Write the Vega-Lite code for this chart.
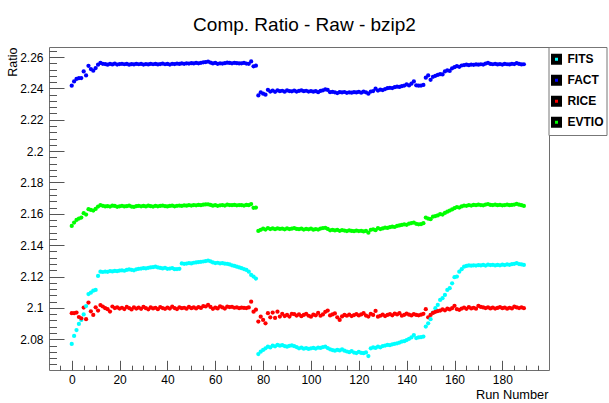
{
"$schema": "https://vega.github.io/schema/vega-lite/v6.json",
"width": 500,
"height": 323,
"autosize": {"type": "none"},
"padding": {"left": 49, "top": 47, "right": 60, "bottom": 33},
"background": "white",
"config": {"view": {"stroke": "#6e6e6e", "strokeWidth": 1}, "font": "Liberation Sans"},
"title": {"text": "Comp. Ratio - Raw - bzip2", "anchor": "middle", "frame": "group", "dx": 5.5, "dy": 20, "offset": 15, "baseline": "alphabetic", "font": "Liberation Sans", "fontSize": 19, "fontWeight": "normal", "color": "black"},
"data": {"values": [
{"run":0,"FITS":2.0770,"FACT":2.2417,"RICE":2.0966,"EVTIO":2.1523},
{"run":1,"FITS":2.0821,"FACT":2.2444,"RICE":2.0966,"EVTIO":2.1544},
{"run":2,"FITS":2.0859,"FACT":2.2460,"RICE":2.0970,"EVTIO":2.1561},
{"run":3,"FITS":2.0898,"FACT":2.2465,"RICE":2.0942,"EVTIO":2.1570},
{"run":4,"FITS":2.0923,"FACT":2.2466,"RICE":2.0934,"EVTIO":2.1576},
{"run":5,"FITS":2.0958,"FACT":2.2508,"RICE":2.1002,"EVTIO":2.1604},
{"run":6,"FITS":2.1012,"FACT":2.2483,"RICE":2.0928,"EVTIO":2.1595},
{"run":7,"FITS":2.1088,"FACT":2.2544,"RICE":2.1034,"EVTIO":2.1630},
{"run":8,"FITS":2.1097,"FACT":2.2523,"RICE":2.0978,"EVTIO":2.1625},
{"run":9,"FITS":2.1110,"FACT":2.2513,"RICE":2.0955,"EVTIO":2.1621},
{"run":10,"FITS":2.1115,"FACT":2.2530,"RICE":2.1004,"EVTIO":2.1631},
{"run":11,"FITS":2.1204,"FACT":2.2551,"RICE":2.0983,"EVTIO":2.1646},
{"run":12,"FITS":2.1231,"FACT":2.2562,"RICE":2.1018,"EVTIO":2.1655},
{"run":13,"FITS":2.1229,"FACT":2.2557,"RICE":2.1009,"EVTIO":2.1651},
{"run":14,"FITS":2.1232,"FACT":2.2555,"RICE":2.0998,"EVTIO":2.1647},
{"run":15,"FITS":2.1230,"FACT":2.2551,"RICE":2.0992,"EVTIO":2.1649},
{"run":16,"FITS":2.1235,"FACT":2.2556,"RICE":2.0977,"EVTIO":2.1646},
{"run":17,"FITS":2.1233,"FACT":2.2553,"RICE":2.1009,"EVTIO":2.1652},
{"run":18,"FITS":2.1236,"FACT":2.2558,"RICE":2.0999,"EVTIO":2.1650},
{"run":19,"FITS":2.1234,"FACT":2.2552,"RICE":2.1003,"EVTIO":2.1645},
{"run":20,"FITS":2.1238,"FACT":2.2555,"RICE":2.0996,"EVTIO":2.1648},
{"run":21,"FITS":2.1240,"FACT":2.2557,"RICE":2.1001,"EVTIO":2.1651},
{"run":22,"FITS":2.1237,"FACT":2.2554,"RICE":2.0993,"EVTIO":2.1647},
{"run":23,"FITS":2.1242,"FACT":2.2556,"RICE":2.1006,"EVTIO":2.1649},
{"run":24,"FITS":2.1245,"FACT":2.2551,"RICE":2.0999,"EVTIO":2.1652},
{"run":25,"FITS":2.1243,"FACT":2.2555,"RICE":2.0990,"EVTIO":2.1646},
{"run":26,"FITS":2.1240,"FACT":2.2553,"RICE":2.1004,"EVTIO":2.1644},
{"run":27,"FITS":2.1246,"FACT":2.2557,"RICE":2.0996,"EVTIO":2.1649},
{"run":28,"FITS":2.1249,"FACT":2.2554,"RICE":2.1002,"EVTIO":2.1651},
{"run":29,"FITS":2.1251,"FACT":2.2556,"RICE":2.0994,"EVTIO":2.1648},
{"run":30,"FITS":2.1253,"FACT":2.2552,"RICE":2.1007,"EVTIO":2.1650},
{"run":31,"FITS":2.1252,"FACT":2.2555,"RICE":2.0998,"EVTIO":2.1647},
{"run":32,"FITS":2.1256,"FACT":2.2553,"RICE":2.0991,"EVTIO":2.1652},
{"run":33,"FITS":2.1258,"FACT":2.2557,"RICE":2.1003,"EVTIO":2.1649},
{"run":34,"FITS":2.1260,"FACT":2.2554,"RICE":2.0997,"EVTIO":2.1646},
{"run":35,"FITS":2.1263,"FACT":2.2556,"RICE":2.1001,"EVTIO":2.1651},
{"run":36,"FITS":2.1258,"FACT":2.2553,"RICE":2.0992,"EVTIO":2.1648},
{"run":37,"FITS":2.1255,"FACT":2.2555,"RICE":2.1005,"EVTIO":2.1650},
{"run":38,"FITS":2.1252,"FACT":2.2558,"RICE":2.0999,"EVTIO":2.1653},
{"run":39,"FITS":2.1256,"FACT":2.2554,"RICE":2.0994,"EVTIO":2.1649},
{"run":40,"FITS":2.1249,"FACT":2.2556,"RICE":2.1002,"EVTIO":2.1647},
{"run":41,"FITS":2.1251,"FACT":2.2552,"RICE":2.0996,"EVTIO":2.1650},
{"run":42,"FITS":2.1254,"FACT":2.2557,"RICE":2.1008,"EVTIO":2.1652},
{"run":43,"FITS":2.1247,"FACT":2.2555,"RICE":2.0999,"EVTIO":2.1648},
{"run":44,"FITS":2.1248,"FACT":2.2558,"RICE":2.0993,"EVTIO":2.1651},
{"run":45,"FITS":2.1249,"FACT":2.2556,"RICE":2.1004,"EVTIO":2.1653},
{"run":46,"FITS":2.1284,"FACT":2.2559,"RICE":2.0998,"EVTIO":2.1650},
{"run":47,"FITS":2.1281,"FACT":2.2557,"RICE":2.1001,"EVTIO":2.1654},
{"run":48,"FITS":2.1283,"FACT":2.2560,"RICE":2.0995,"EVTIO":2.1652},
{"run":49,"FITS":2.1286,"FACT":2.2558,"RICE":2.1006,"EVTIO":2.1655},
{"run":50,"FITS":2.1284,"FACT":2.2561,"RICE":2.0998,"EVTIO":2.1653},
{"run":51,"FITS":2.1288,"FACT":2.2559,"RICE":2.1003,"EVTIO":2.1656},
{"run":52,"FITS":2.1290,"FACT":2.2562,"RICE":2.0997,"EVTIO":2.1654},
{"run":53,"FITS":2.1292,"FACT":2.2560,"RICE":2.1005,"EVTIO":2.1657},
{"run":54,"FITS":2.1294,"FACT":2.2563,"RICE":2.1000,"EVTIO":2.1655},
{"run":55,"FITS":2.1296,"FACT":2.2566,"RICE":2.1012,"EVTIO":2.1658},
{"run":56,"FITS":2.1299,"FACT":2.2568,"RICE":2.1009,"EVTIO":2.1660},
{"run":57,"FITS":2.1302,"FACT":2.2571,"RICE":2.1019,"EVTIO":2.1661},
{"run":58,"FITS":2.1297,"FACT":2.2565,"RICE":2.1006,"EVTIO":2.1657},
{"run":59,"FITS":2.1290,"FACT":2.2559,"RICE":2.0994,"EVTIO":2.1652},
{"run":60,"FITS":2.1286,"FACT":2.2562,"RICE":2.1002,"EVTIO":2.1655},
{"run":61,"FITS":2.1288,"FACT":2.2557,"RICE":2.0997,"EVTIO":2.1651},
{"run":62,"FITS":2.1284,"FACT":2.2560,"RICE":2.1010,"EVTIO":2.1654},
{"run":63,"FITS":2.1286,"FACT":2.2558,"RICE":2.1003,"EVTIO":2.1656},
{"run":64,"FITS":2.1282,"FACT":2.2561,"RICE":2.0996,"EVTIO":2.1653},
{"run":65,"FITS":2.1281,"FACT":2.2564,"RICE":2.1008,"EVTIO":2.1658},
{"run":66,"FITS":2.1277,"FACT":2.2562,"RICE":2.1005,"EVTIO":2.1656},
{"run":67,"FITS":2.1272,"FACT":2.2560,"RICE":2.1007,"EVTIO":2.1655},
{"run":68,"FITS":2.1268,"FACT":2.2563,"RICE":2.1001,"EVTIO":2.1657},
{"run":69,"FITS":2.1263,"FACT":2.2561,"RICE":2.1004,"EVTIO":2.1654},
{"run":70,"FITS":2.1258,"FACT":2.2559,"RICE":2.0998,"EVTIO":2.1656},
{"run":71,"FITS":2.1253,"FACT":2.2560,"RICE":2.1002,"EVTIO":2.1655},
{"run":72,"FITS":2.1248,"FACT":2.2562,"RICE":2.1000,"EVTIO":2.1653},
{"run":73,"FITS":2.1242,"FACT":2.2558,"RICE":2.0999,"EVTIO":2.1657},
{"run":74,"FITS":2.1231,"FACT":2.2557,"RICE":2.1003,"EVTIO":2.1655},
{"run":75,"FITS":2.1210,"FACT":2.2572,"RICE":2.1040,"EVTIO":2.1662},
{"run":76,"FITS":2.1200,"FACT":2.2541,"RICE":2.0976,"EVTIO":2.1638},
{"run":77,"FITS":2.1187,"FACT":2.2545,"RICE":2.0989,"EVTIO":2.1640},
{"run":78,"FITS":2.0706,"FACT":2.2355,"RICE":2.0913,"EVTIO":2.1491},
{"run":79,"FITS":2.0721,"FACT":2.2374,"RICE":2.0944,"EVTIO":2.1498},
{"run":80,"FITS":2.0732,"FACT":2.2366,"RICE":2.0923,"EVTIO":2.1505},
{"run":81,"FITS":2.0742,"FACT":2.2360,"RICE":2.0902,"EVTIO":2.1500},
{"run":82,"FITS":2.0753,"FACT":2.2391,"RICE":2.0966,"EVTIO":2.1509},
{"run":83,"FITS":2.0748,"FACT":2.2380,"RICE":2.0940,"EVTIO":2.1503},
{"run":84,"FITS":2.0759,"FACT":2.2386,"RICE":2.0970,"EVTIO":2.1507},
{"run":85,"FITS":2.0755,"FACT":2.2378,"RICE":2.0936,"EVTIO":2.1502},
{"run":86,"FITS":2.0764,"FACT":2.2388,"RICE":2.0976,"EVTIO":2.1508},
{"run":87,"FITS":2.0759,"FACT":2.2382,"RICE":2.0945,"EVTIO":2.1504},
{"run":88,"FITS":2.0762,"FACT":2.2385,"RICE":2.0962,"EVTIO":2.1506},
{"run":89,"FITS":2.0757,"FACT":2.2379,"RICE":2.0948,"EVTIO":2.1501},
{"run":90,"FITS":2.0753,"FACT":2.2387,"RICE":2.0955,"EVTIO":2.1507},
{"run":91,"FITS":2.0758,"FACT":2.2383,"RICE":2.0945,"EVTIO":2.1503},
{"run":92,"FITS":2.0761,"FACT":2.2381,"RICE":2.0962,"EVTIO":2.1505},
{"run":93,"FITS":2.0756,"FACT":2.2386,"RICE":2.0960,"EVTIO":2.1509},
{"run":94,"FITS":2.0750,"FACT":2.2380,"RICE":2.0951,"EVTIO":2.1504},
{"run":95,"FITS":2.0742,"FACT":2.2384,"RICE":2.0958,"EVTIO":2.1502},
{"run":96,"FITS":2.0746,"FACT":2.2388,"RICE":2.0947,"EVTIO":2.1506},
{"run":97,"FITS":2.0740,"FACT":2.2382,"RICE":2.0955,"EVTIO":2.1500},
{"run":98,"FITS":2.0744,"FACT":2.2385,"RICE":2.0962,"EVTIO":2.1504},
{"run":99,"FITS":2.0738,"FACT":2.2380,"RICE":2.0950,"EVTIO":2.1501},
{"run":100,"FITS":2.0742,"FACT":2.2383,"RICE":2.0944,"EVTIO":2.1505},
{"run":101,"FITS":2.0745,"FACT":2.2379,"RICE":2.0957,"EVTIO":2.1499},
{"run":102,"FITS":2.0741,"FACT":2.2382,"RICE":2.0953,"EVTIO":2.1503},
{"run":103,"FITS":2.0747,"FACT":2.2376,"RICE":2.0968,"EVTIO":2.1500},
{"run":104,"FITS":2.0745,"FACT":2.2384,"RICE":2.0950,"EVTIO":2.1506},
{"run":105,"FITS":2.0750,"FACT":2.2388,"RICE":2.0958,"EVTIO":2.1509},
{"run":106,"FITS":2.0753,"FACT":2.2393,"RICE":2.0975,"EVTIO":2.1511},
{"run":107,"FITS":2.0744,"FACT":2.2390,"RICE":2.0983,"EVTIO":2.1504},
{"run":108,"FITS":2.0736,"FACT":2.2376,"RICE":2.0952,"EVTIO":2.1495},
{"run":109,"FITS":2.0731,"FACT":2.2378,"RICE":2.0958,"EVTIO":2.1498},
{"run":110,"FITS":2.0727,"FACT":2.2375,"RICE":2.0965,"EVTIO":2.1494},
{"run":111,"FITS":2.0733,"FACT":2.2370,"RICE":2.0940,"EVTIO":2.1497},
{"run":112,"FITS":2.0729,"FACT":2.2376,"RICE":2.0923,"EVTIO":2.1492},
{"run":113,"FITS":2.0735,"FACT":2.2374,"RICE":2.0946,"EVTIO":2.1496},
{"run":114,"FITS":2.0727,"FACT":2.2377,"RICE":2.0955,"EVTIO":2.1493},
{"run":115,"FITS":2.0722,"FACT":2.2372,"RICE":2.0950,"EVTIO":2.1490},
{"run":116,"FITS":2.0718,"FACT":2.2375,"RICE":2.0957,"EVTIO":2.1494},
{"run":117,"FITS":2.0724,"FACT":2.2373,"RICE":2.0948,"EVTIO":2.1491},
{"run":118,"FITS":2.0715,"FACT":2.2376,"RICE":2.0954,"EVTIO":2.1489},
{"run":119,"FITS":2.0712,"FACT":2.2374,"RICE":2.0960,"EVTIO":2.1493},
{"run":120,"FITS":2.0719,"FACT":2.2378,"RICE":2.0952,"EVTIO":2.1490},
{"run":121,"FITS":2.0713,"FACT":2.2373,"RICE":2.0958,"EVTIO":2.1492},
{"run":122,"FITS":2.0711,"FACT":2.2379,"RICE":2.0966,"EVTIO":2.1488},
{"run":123,"FITS":2.0716,"FACT":2.2375,"RICE":2.0951,"EVTIO":2.1491},
{"run":124,"FITS":2.0693,"FACT":2.2366,"RICE":2.0945,"EVTIO":2.1480},
{"run":125,"FITS":2.0742,"FACT":2.2380,"RICE":2.0962,"EVTIO":2.1498},
{"run":126,"FITS":2.0748,"FACT":2.2383,"RICE":2.0955,"EVTIO":2.1501},
{"run":127,"FITS":2.0745,"FACT":2.2398,"RICE":2.0981,"EVTIO":2.1496},
{"run":128,"FITS":2.0753,"FACT":2.2386,"RICE":2.0944,"EVTIO":2.1509},
{"run":129,"FITS":2.0749,"FACT":2.2392,"RICE":2.0950,"EVTIO":2.1503},
{"run":130,"FITS":2.0757,"FACT":2.2389,"RICE":2.0957,"EVTIO":2.1507},
{"run":131,"FITS":2.0760,"FACT":2.2396,"RICE":2.0948,"EVTIO":2.1512},
{"run":132,"FITS":2.0764,"FACT":2.2401,"RICE":2.0955,"EVTIO":2.1510},
{"run":133,"FITS":2.0762,"FACT":2.2404,"RICE":2.0960,"EVTIO":2.1515},
{"run":134,"FITS":2.0768,"FACT":2.2402,"RICE":2.0953,"EVTIO":2.1518},
{"run":135,"FITS":2.0771,"FACT":2.2408,"RICE":2.0964,"EVTIO":2.1516},
{"run":136,"FITS":2.0774,"FACT":2.2411,"RICE":2.0958,"EVTIO":2.1523},
{"run":137,"FITS":2.0779,"FACT":2.2409,"RICE":2.0966,"EVTIO":2.1526},
{"run":138,"FITS":2.0785,"FACT":2.2414,"RICE":2.0950,"EVTIO":2.1529},
{"run":139,"FITS":2.0788,"FACT":2.2418,"RICE":2.0956,"EVTIO":2.1533},
{"run":140,"FITS":2.0795,"FACT":2.2425,"RICE":2.0964,"EVTIO":2.1530},
{"run":141,"FITS":2.0803,"FACT":2.2419,"RICE":2.0957,"EVTIO":2.1537},
{"run":142,"FITS":2.0812,"FACT":2.2430,"RICE":2.0952,"EVTIO":2.1541},
{"run":143,"FITS":2.0827,"FACT":2.2444,"RICE":2.0960,"EVTIO":2.1544},
{"run":144,"FITS":2.0808,"FACT":2.2420,"RICE":2.0955,"EVTIO":2.1536},
{"run":145,"FITS":2.0812,"FACT":2.2417,"RICE":2.0953,"EVTIO":2.1533},
{"run":146,"FITS":2.0813,"FACT":2.2418,"RICE":2.0957,"EVTIO":2.1534},
{"run":147,"FITS":2.0817,"FACT":2.2422,"RICE":2.0962,"EVTIO":2.1540},
{"run":148,"FITS":2.0881,"FACT":2.2468,"RICE":2.0992,"EVTIO":2.1576},
{"run":149,"FITS":2.0902,"FACT":2.2483,"RICE":2.0940,"EVTIO":2.1569},
{"run":150,"FITS":2.0928,"FACT":2.2455,"RICE":2.0955,"EVTIO":2.1566},
{"run":151,"FITS":2.0970,"FACT":2.2474,"RICE":2.0968,"EVTIO":2.1582},
{"run":152,"FITS":2.0998,"FACT":2.2480,"RICE":2.0975,"EVTIO":2.1586},
{"run":153,"FITS":2.1019,"FACT":2.2486,"RICE":2.0980,"EVTIO":2.1590},
{"run":154,"FITS":2.1051,"FACT":2.2491,"RICE":2.0983,"EVTIO":2.1598},
{"run":155,"FITS":2.1062,"FACT":2.2489,"RICE":2.0991,"EVTIO":2.1595},
{"run":156,"FITS":2.1083,"FACT":2.2508,"RICE":2.0985,"EVTIO":2.1606},
{"run":157,"FITS":2.1115,"FACT":2.2515,"RICE":2.0995,"EVTIO":2.1614},
{"run":158,"FITS":2.1126,"FACT":2.2511,"RICE":2.0990,"EVTIO":2.1621},
{"run":159,"FITS":2.1157,"FACT":2.2528,"RICE":2.0998,"EVTIO":2.1628},
{"run":160,"FITS":2.1196,"FACT":2.2535,"RICE":2.1013,"EVTIO":2.1636},
{"run":161,"FITS":2.1200,"FACT":2.2542,"RICE":2.0992,"EVTIO":2.1643},
{"run":162,"FITS":2.1231,"FACT":2.2538,"RICE":2.0988,"EVTIO":2.1640},
{"run":163,"FITS":2.1247,"FACT":2.2546,"RICE":2.0996,"EVTIO":2.1647},
{"run":164,"FITS":2.1263,"FACT":2.2549,"RICE":2.1002,"EVTIO":2.1653},
{"run":165,"FITS":2.1268,"FACT":2.2551,"RICE":2.0994,"EVTIO":2.1651},
{"run":166,"FITS":2.1271,"FACT":2.2548,"RICE":2.1005,"EVTIO":2.1655},
{"run":167,"FITS":2.1269,"FACT":2.2552,"RICE":2.0997,"EVTIO":2.1653},
{"run":168,"FITS":2.1272,"FACT":2.2550,"RICE":2.1001,"EVTIO":2.1657},
{"run":169,"FITS":2.1270,"FACT":2.2553,"RICE":2.0995,"EVTIO":2.1655},
{"run":170,"FITS":2.1273,"FACT":2.2551,"RICE":2.1013,"EVTIO":2.1658},
{"run":171,"FITS":2.1271,"FACT":2.2554,"RICE":2.1006,"EVTIO":2.1656},
{"run":172,"FITS":2.1274,"FACT":2.2552,"RICE":2.1003,"EVTIO":2.1654},
{"run":173,"FITS":2.1270,"FACT":2.2558,"RICE":2.0999,"EVTIO":2.1659},
{"run":174,"FITS":2.1276,"FACT":2.2562,"RICE":2.1004,"EVTIO":2.1662},
{"run":175,"FITS":2.1273,"FACT":2.2556,"RICE":2.0997,"EVTIO":2.1657},
{"run":176,"FITS":2.1275,"FACT":2.2554,"RICE":2.1002,"EVTIO":2.1656},
{"run":177,"FITS":2.1271,"FACT":2.2557,"RICE":2.0996,"EVTIO":2.1658},
{"run":178,"FITS":2.1274,"FACT":2.2553,"RICE":2.1000,"EVTIO":2.1655},
{"run":179,"FITS":2.1272,"FACT":2.2555,"RICE":2.1005,"EVTIO":2.1657},
{"run":180,"FITS":2.1276,"FACT":2.2552,"RICE":2.0998,"EVTIO":2.1654},
{"run":181,"FITS":2.1273,"FACT":2.2556,"RICE":2.1002,"EVTIO":2.1656},
{"run":182,"FITS":2.1277,"FACT":2.2554,"RICE":2.0995,"EVTIO":2.1658},
{"run":183,"FITS":2.1275,"FACT":2.2553,"RICE":2.1001,"EVTIO":2.1655},
{"run":184,"FITS":2.1279,"FACT":2.2557,"RICE":2.0997,"EVTIO":2.1657},
{"run":185,"FITS":2.1281,"FACT":2.2555,"RICE":2.1008,"EVTIO":2.1659},
{"run":186,"FITS":2.1285,"FACT":2.2561,"RICE":2.1003,"EVTIO":2.1663},
{"run":187,"FITS":2.1280,"FACT":2.2556,"RICE":2.0999,"EVTIO":2.1658},
{"run":188,"FITS":2.1277,"FACT":2.2553,"RICE":2.1004,"EVTIO":2.1655},
{"run":189,"FITS":2.1274,"FACT":2.2554,"RICE":2.0998,"EVTIO":2.1650}
]},
"transform": [{"fold": ["FITS", "FACT", "RICE", "EVTIO"], "as": ["series", "ratio"]}],
"mark": {"type": "point", "filled": true, "opacity": 1, "size": 18, "shape": "circle"},
"encoding": {
  "x": {"field": "run", "type": "quantitative",
    "scale": {"domain": [-9.5, 199.5], "nice": false, "zero": false},
    "axis": {"domain": false, "grid": false,
      "values": [-5,0,5,10,15,20,25,30,35,40,45,50,55,60,65,70,75,80,85,90,95,100,105,110,115,120,125,130,135,140,145,150,155,160,165,170,175,180,185,190,195],
      "labelExpr": "datum.value % 20 === 0 ? datum.label : ''",
      "tickSize": {"condition": {"test": "datum.value % 20 === 0", "value": -9.7}, "value": -4.8},
      "tickColor": "#555", "tickWidth": 1,
      "labelOverlap": false, "labelFlush": false,
      "labelFont": "Liberation Sans", "labelFontSize": 12, "labelColor": "black", "labelPadding": 14.4, "labelBaseline": "top",
      "title": "Run Number", "titleFont": "Liberation Sans", "titleFontSize": 12.8, "titleFontWeight": "normal", "titleColor": "black",
      "titleX": 499, "titleY": 28.5, "titleAlign": "right", "titleBaseline": "alphabetic", "titleAnchor": null}},
  "y": {"field": "ratio", "type": "quantitative",
    "scale": {"domain": [2.0604, 2.2664], "nice": false, "zero": false},
    "axis": {"domain": false, "grid": false,
      "values": [2.064,2.068,2.072,2.076,2.08,2.084,2.088,2.092,2.096,2.1,2.104,2.108,2.112,2.116,2.12,2.124,2.128,2.132,2.136,2.14,2.144,2.148,2.152,2.156,2.16,2.164,2.168,2.172,2.176,2.18,2.184,2.188,2.192,2.196,2.2,2.204,2.208,2.212,2.216,2.22,2.224,2.228,2.232,2.236,2.24,2.244,2.248,2.252,2.256,2.26,2.264],
      "labelExpr": "abs(datum.value*50 - round(datum.value*50)) < 0.01 ? format(datum.value, '~g') : ''",
      "tickSize": {"condition": {"test": "abs(datum.value*50 - round(datum.value*50)) < 0.01", "value": -15}, "value": -7.5},
      "tickColor": "#555", "tickWidth": 1,
      "labelOverlap": false, "labelFlush": false,
      "labelFont": "Liberation Sans", "labelFontSize": 12, "labelColor": "black", "labelPadding": 21,
      "title": "Ratio", "titleFont": "Liberation Sans", "titleFontSize": 12.5, "titleFontWeight": "normal", "titleColor": "black",
      "titleX": -32.6, "titleY": 0, "titleAngle": 270, "titleAlign": "right", "titleBaseline": "alphabetic", "titleAnchor": null}},
  "color": {"field": "series", "type": "nominal",
    "scale": {"domain": ["FITS", "FACT", "RICE", "EVTIO"], "range": ["#00ffff", "#0000ff", "#ff0000", "#00ff00"]},
    "legend": {"orient": "none", "legendX": 499.5, "legendY": 0, "title": null,
      "symbolType": "square", "symbolSize": 49, "symbolStrokeColor": "black", "symbolStrokeWidth": 4, "symbolOpacity": 1,
      "labelFont": "Liberation Sans", "labelFontWeight": "bold", "labelFontSize": 12, "labelColor": "black", "labelOffset": 5,
      "clipHeight": 20.5, "padding": 2, "rowPadding": 0, "strokeColor": "#777", "fillColor": "white", "direction": "vertical"}}
}
}
